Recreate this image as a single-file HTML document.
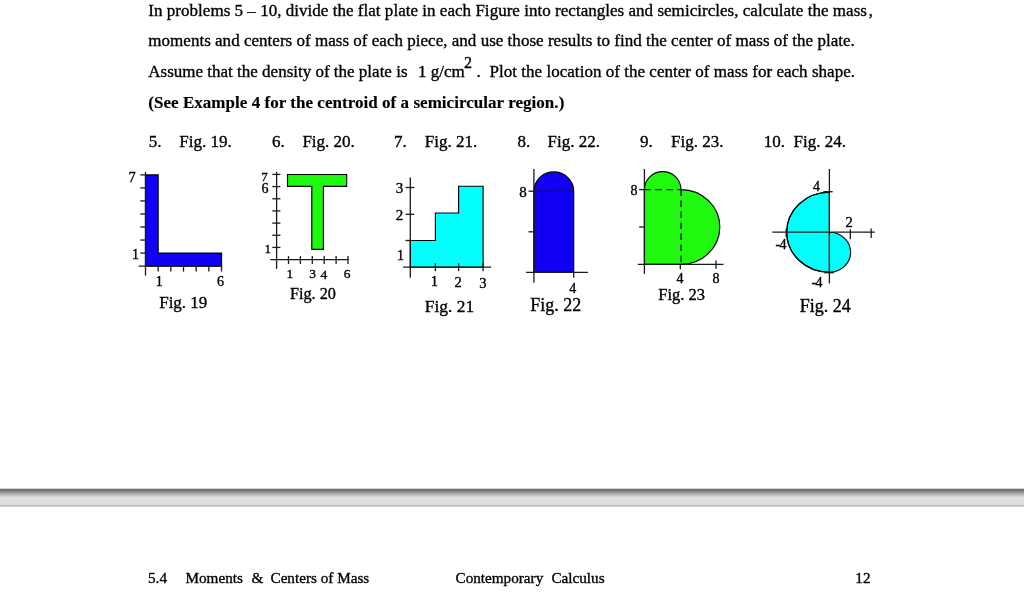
<!DOCTYPE html>
<html><head><meta charset="utf-8"><style>
html,body{margin:0;padding:0;background:#fff;width:1024px;height:593px;overflow:hidden}
svg{display:block;will-change:transform;font-family:"Liberation Serif",serif;fill:#000}
text{stroke:#000;stroke-width:0.35px}
text[font-weight=bold]{stroke-width:0.15px}
.bar{position:absolute;left:0;top:488px;width:1024px;height:19px;background:linear-gradient(to bottom,#d2d2d2 0px,#d2d2d2 1px,#6c6c6c 1px,#6c6c6c 2px,#787878 2px,#787878 3px,#888888 3px,#888888 4px,#989898 4px,#989898 5px,#a8a8a8 5px,#a8a8a8 6px,#b6b6b6 6px,#b6b6b6 7px,#c6c6c6 7px,#c6c6c6 8px,#d4d4d4 8px,#d4d4d4 9px,#e0e0e0 9px,#e0e0e0 10px,#e0e0e0 10px,#e0e0e0 11px,#e0e0e0 11px,#e0e0e0 12px,#e0e0e0 12px,#e0e0e0 13px,#e0e0e0 13px,#e0e0e0 14px,#e0e0e0 14px,#e0e0e0 15px,#e0e0e0 15px,#e0e0e0 16px,#e0e0e0 16px,#e0e0e0 17px,#bababa 17px,#bababa 18px,#d4d4d4 18px,#d4d4d4 19px)}
</style></head><body>
<svg width="1024" height="593" viewBox="0 0 1024 593">
<text x="148.3" y="15.7" font-size="17" textLength="718.6" lengthAdjust="spacing">In problems 5 – 10, divide the flat plate in each Figure into rectangles and semicircles, calculate the mass</text>
<text x="868.8" y="15.7" font-size="17">,</text>
<text x="148.3" y="46.4" font-size="17" textLength="706.5" lengthAdjust="spacing">moments and centers of mass of each piece, and use those results to find the center of mass of the plate.</text>
<text x="148.3" y="77.3" font-size="17">Assume that the density of the plate is</text>
<text x="418" y="77.3" font-size="17">1 g/cm</text>
<text x="464" y="67.5" font-size="16">2</text>
<text x="476.5" y="77.3" font-size="17">.</text>
<text x="489.5" y="77.3" font-size="17" textLength="365.5" lengthAdjust="spacing">Plot the location of the center of mass for each shape.</text>
<text x="148.3" y="108.2" font-size="17" font-weight="bold" textLength="416" lengthAdjust="spacing">(See Example 4 for the centroid of a semicircular region.)</text>
<text x="148.8" y="147.3" font-size="17">5.</text>
<text x="179.3" y="147.3" font-size="17">Fig. 19.</text>
<text x="271.9" y="147.3" font-size="17">6.</text>
<text x="302.4" y="147.3" font-size="17">Fig. 20.</text>
<text x="393.9" y="147.3" font-size="17">7.</text>
<text x="424.8" y="147.3" font-size="17">Fig. 21.</text>
<text x="517.6" y="147.3" font-size="17">8.</text>
<text x="547.5" y="147.3" font-size="17">Fig. 22.</text>
<text x="640" y="147.3" font-size="17">9.</text>
<text x="671" y="147.3" font-size="17">Fig. 23.</text>
<text x="763.7" y="147.3" font-size="17">10.</text>
<text x="793.6" y="147.3" font-size="17">Fig. 24.</text>
<polygon points="145.50,266.10 145.50,174.89 158.17,174.89 158.17,253.07 221.52,253.07 221.52,266.10" fill="#1000f4" stroke="#000" stroke-width="1.15" stroke-linejoin="miter"/>
<polygon points="287.50,174.50 346.70,174.50 346.70,186.30 323.40,186.30 323.40,249.30 311.80,249.30 311.80,186.30 287.50,186.30" fill="#20f810" stroke="#000" stroke-width="1.15" stroke-linejoin="miter"/>
<polygon points="410.30,267.20 410.30,240.50 435.40,240.50 435.40,213.00 458.60,213.00 458.60,186.20 483.10,186.20 483.10,267.20" fill="#03fffc" stroke="#000" stroke-width="1.15" stroke-linejoin="miter"/>
<path d="M533.9,272.4 L533.9,191.2 A19.9,19.3 0 0 1 573.6999999999999,191.2 L573.6999999999999,272.4 Z" fill="#1000f4" stroke="#000" stroke-width="1.15"/>
<path d="M644.4,264.4 L644.4,189.59999999999997 A18.30000000000001,18.0 0 0 1 681.0,189.59999999999997 A38.8,37.4 0 0 1 681.0,264.4 Z" fill="#20f810" stroke="#000" stroke-width="1.15"/>
<path d="M829.4,192.2 A42.7,40 0 0 0 829.4,272.2 L829.4,232.2 A21.2,20 0 0 1 829.4,272.2 Z" fill="#03fffc" stroke="#000" stroke-width="1.15"/>
<path d="M829.4,192.2 A42.7,40 0 0 0 829.4,272.2" fill="none" stroke="#000" stroke-width="1.15"/>
<line x1="145.5" y1="172" x2="145.5" y2="275.6" stroke="#1a1a1a" stroke-width="1.3"/>
<line x1="138.5" y1="266.1" x2="222.11999999999998" y2="266.1" stroke="#1a1a1a" stroke-width="1.3"/>
<line x1="140.3" y1="253.07000000000002" x2="145.5" y2="253.07000000000002" stroke="#1a1a1a" stroke-width="1.3"/>
<line x1="140.3" y1="240.04000000000002" x2="145.5" y2="240.04000000000002" stroke="#1a1a1a" stroke-width="1.3"/>
<line x1="140.3" y1="227.01000000000002" x2="145.5" y2="227.01000000000002" stroke="#1a1a1a" stroke-width="1.3"/>
<line x1="140.3" y1="213.98000000000002" x2="145.5" y2="213.98000000000002" stroke="#1a1a1a" stroke-width="1.3"/>
<line x1="140.3" y1="200.95000000000005" x2="145.5" y2="200.95000000000005" stroke="#1a1a1a" stroke-width="1.3"/>
<line x1="140.3" y1="187.92000000000002" x2="145.5" y2="187.92000000000002" stroke="#1a1a1a" stroke-width="1.3"/>
<line x1="140.3" y1="174.89000000000004" x2="145.5" y2="174.89000000000004" stroke="#1a1a1a" stroke-width="1.3"/>
<line x1="158.17" y1="266.1" x2="158.17" y2="271.6" stroke="#1a1a1a" stroke-width="1.3"/>
<line x1="170.84" y1="266.1" x2="170.84" y2="271.6" stroke="#1a1a1a" stroke-width="1.3"/>
<line x1="183.51" y1="266.1" x2="183.51" y2="271.6" stroke="#1a1a1a" stroke-width="1.3"/>
<line x1="196.18" y1="266.1" x2="196.18" y2="271.6" stroke="#1a1a1a" stroke-width="1.3"/>
<line x1="208.85" y1="266.1" x2="208.85" y2="271.6" stroke="#1a1a1a" stroke-width="1.3"/>
<line x1="221.51999999999998" y1="266.1" x2="221.51999999999998" y2="271.6" stroke="#1a1a1a" stroke-width="1.3"/>
<text x="132.2" y="181.5" font-size="14.5" text-anchor="middle">7</text>
<text x="135.6" y="258.5" font-size="14" text-anchor="middle">1</text>
<text x="159.3" y="285.8" font-size="14" text-anchor="middle">1</text>
<text x="220.6" y="285.8" font-size="14" text-anchor="middle">6</text>
<text x="159.2" y="308.2" font-size="17">Fig. 19</text>
<line x1="276.6" y1="171.8" x2="276.6" y2="268.8" stroke="#1a1a1a" stroke-width="1.3"/>
<line x1="270.3" y1="259.6" x2="348.5" y2="259.6" stroke="#1a1a1a" stroke-width="1.3"/>
<line x1="272.3" y1="247.43000000000004" x2="280.40000000000003" y2="247.43000000000004" stroke="#1a1a1a" stroke-width="1.3"/>
<line x1="272.3" y1="235.26000000000002" x2="280.40000000000003" y2="235.26000000000002" stroke="#1a1a1a" stroke-width="1.3"/>
<line x1="272.3" y1="223.09000000000003" x2="280.40000000000003" y2="223.09000000000003" stroke="#1a1a1a" stroke-width="1.3"/>
<line x1="272.3" y1="210.92000000000002" x2="280.40000000000003" y2="210.92000000000002" stroke="#1a1a1a" stroke-width="1.3"/>
<line x1="272.3" y1="198.75000000000003" x2="280.40000000000003" y2="198.75000000000003" stroke="#1a1a1a" stroke-width="1.3"/>
<line x1="272.3" y1="186.58000000000004" x2="280.40000000000003" y2="186.58000000000004" stroke="#1a1a1a" stroke-width="1.3"/>
<line x1="272.3" y1="174.41000000000003" x2="280.40000000000003" y2="174.41000000000003" stroke="#1a1a1a" stroke-width="1.3"/>
<line x1="288.5" y1="256.1" x2="288.5" y2="264.1" stroke="#1a1a1a" stroke-width="1.3"/>
<line x1="300.40000000000003" y1="256.1" x2="300.40000000000003" y2="264.1" stroke="#1a1a1a" stroke-width="1.3"/>
<line x1="312.3" y1="256.1" x2="312.3" y2="264.1" stroke="#1a1a1a" stroke-width="1.3"/>
<line x1="324.20000000000005" y1="256.1" x2="324.20000000000005" y2="264.1" stroke="#1a1a1a" stroke-width="1.3"/>
<line x1="336.1" y1="256.1" x2="336.1" y2="264.1" stroke="#1a1a1a" stroke-width="1.3"/>
<line x1="348.0" y1="256.1" x2="348.0" y2="264.1" stroke="#1a1a1a" stroke-width="1.3"/>
<text x="264.6" y="180.5" font-size="13" text-anchor="middle">7</text>
<text x="265.1" y="192.5" font-size="14" text-anchor="middle">6</text>
<text x="267.8" y="252.5" font-size="13" text-anchor="middle">1</text>
<text x="289.9" y="278.2" font-size="13.5" text-anchor="middle">1</text>
<text x="312.5" y="277.7" font-size="13.5" text-anchor="middle">3</text>
<text x="323.8" y="279" font-size="13.5" text-anchor="middle">4</text>
<text x="347.2" y="277.9" font-size="13.5" text-anchor="middle">6</text>
<text x="290.0" y="299.2" font-size="16.2">Fig. 20</text>
<line x1="410.3" y1="177.6" x2="410.3" y2="277.8" stroke="#1a1a1a" stroke-width="1.3"/>
<line x1="403.2" y1="267.2" x2="491.2" y2="267.2" stroke="#1a1a1a" stroke-width="1.3"/>
<line x1="405.5" y1="240.5" x2="410.3" y2="240.5" stroke="#1a1a1a" stroke-width="1.3"/>
<line x1="405.5" y1="214.3" x2="414.3" y2="214.3" stroke="#1a1a1a" stroke-width="1.3"/>
<line x1="405.5" y1="187.5" x2="414.3" y2="187.5" stroke="#1a1a1a" stroke-width="1.3"/>
<line x1="435.4" y1="263.2" x2="435.4" y2="271.2" stroke="#1a1a1a" stroke-width="1.3"/>
<line x1="458.6" y1="263.2" x2="458.6" y2="271.2" stroke="#1a1a1a" stroke-width="1.3"/>
<line x1="483.1" y1="263.2" x2="483.1" y2="271.2" stroke="#1a1a1a" stroke-width="1.3"/>
<text x="399.4" y="193" font-size="15" text-anchor="middle">3</text>
<text x="399.4" y="220" font-size="15" text-anchor="middle">2</text>
<text x="400.5" y="259.8" font-size="14" text-anchor="middle">1</text>
<text x="434.4" y="286" font-size="14.5" text-anchor="middle">1</text>
<text x="458.2" y="286.8" font-size="14.5" text-anchor="middle">2</text>
<text x="482.8" y="287.6" font-size="14.5" text-anchor="middle">3</text>
<text x="424.8" y="312" font-size="17.4">Fig. 21</text>
<line x1="533.9" y1="191.2" x2="573.6999999999999" y2="191.2" stroke="#1a1a1a" stroke-width="1.4" stroke-dasharray="6.5,4.5" stroke-dashoffset="-1"/>
<line x1="533.9" y1="169" x2="533.9" y2="282.7" stroke="#1a1a1a" stroke-width="1.3"/>
<line x1="526.2" y1="272.4" x2="587.9" y2="272.4" stroke="#1a1a1a" stroke-width="1.3"/>
<line x1="528.5" y1="231.79999999999998" x2="533.9" y2="231.79999999999998" stroke="#1a1a1a" stroke-width="1.3"/>
<line x1="528.5" y1="191.2" x2="533.9" y2="191.2" stroke="#1a1a1a" stroke-width="1.3"/>
<line x1="573.6999999999999" y1="272.4" x2="573.6999999999999" y2="277.7" stroke="#1a1a1a" stroke-width="1.3"/>
<text x="523" y="197" font-size="15" text-anchor="middle">8</text>
<text x="572.8" y="292.7" font-size="14" text-anchor="middle">4</text>
<text x="530.3" y="310.7" font-size="18">Fig. 22</text>
<line x1="644.4" y1="189.59999999999997" x2="681.0" y2="189.59999999999997" stroke="#1a1a1a" stroke-width="1.4" stroke-dasharray="6.5,4.5"/>
<line x1="681.0" y1="189.59999999999997" x2="681.0" y2="264.4" stroke="#1a1a1a" stroke-width="1.4" stroke-dasharray="6.5,4.5"/>
<line x1="644.4" y1="169" x2="644.4" y2="273.9" stroke="#1a1a1a" stroke-width="1.3"/>
<line x1="637.8" y1="264.4" x2="723.5" y2="264.4" stroke="#1a1a1a" stroke-width="1.3"/>
<line x1="639.1" y1="226.99999999999997" x2="644.4" y2="226.99999999999997" stroke="#1a1a1a" stroke-width="1.3"/>
<line x1="639.1" y1="189.59999999999997" x2="644.4" y2="189.59999999999997" stroke="#1a1a1a" stroke-width="1.3"/>
<line x1="680.3" y1="264.4" x2="680.3" y2="269.3" stroke="#1a1a1a" stroke-width="1.3"/>
<line x1="716.0" y1="260.4" x2="716.0" y2="268.7" stroke="#1a1a1a" stroke-width="1.3"/>
<text x="634.1" y="194.8" font-size="14" text-anchor="middle">8</text>
<text x="679.9" y="283.3" font-size="14" text-anchor="middle">4</text>
<text x="715.9" y="283" font-size="14" text-anchor="middle">8</text>
<text x="658.3" y="300.2" font-size="16.5">Fig. 23</text>
<line x1="829.4" y1="169" x2="829.4" y2="283.5" stroke="#1a1a1a" stroke-width="1.3"/>
<line x1="772.3" y1="232.2" x2="874.9" y2="232.2" stroke="#1a1a1a" stroke-width="1.3"/>
<line x1="823.3" y1="191.7" x2="832.7" y2="191.7" stroke="#1a1a1a" stroke-width="1.3"/>
<line x1="824.2" y1="272.7" x2="834" y2="272.7" stroke="#1a1a1a" stroke-width="1.3"/>
<line x1="786.2" y1="228.8" x2="786.2" y2="236.9" stroke="#1a1a1a" stroke-width="1.3"/>
<line x1="850.3" y1="229.2" x2="850.3" y2="239.3" stroke="#1a1a1a" stroke-width="1.3"/>
<line x1="871.2" y1="228.4" x2="871.2" y2="238.1" stroke="#1a1a1a" stroke-width="1.3"/>
<text x="816.6" y="190.5" font-size="14" text-anchor="middle">4</text>
<text x="849.2" y="226.6" font-size="14.5" text-anchor="middle">2</text>
<text x="786.5" y="249.3" font-size="14" text-anchor="end" textLength="11" lengthAdjust="spacing">-4</text>
<text x="822.5" y="286.6" font-size="14" text-anchor="end" textLength="11" lengthAdjust="spacing">-4</text>
<text x="799.8" y="312" font-size="18">Fig. 24</text>
<text x="148" y="582.8" font-size="15.2">5.4</text>
<text x="185.5" y="582.8" font-size="15.2">Moments</text>
<text x="251.5" y="582.8" font-size="15.2">&amp;</text>
<text x="270.5" y="582.8" font-size="15.2">Centers of Mass</text>
<text x="455.5" y="582.8" font-size="15.2">Contemporary</text>
<text x="551.4" y="582.8" font-size="15.2">Calculus</text>
<text x="855.3" y="582.8" font-size="15.2">12</text>
</svg>
<div class="bar"></div>
</body></html>
